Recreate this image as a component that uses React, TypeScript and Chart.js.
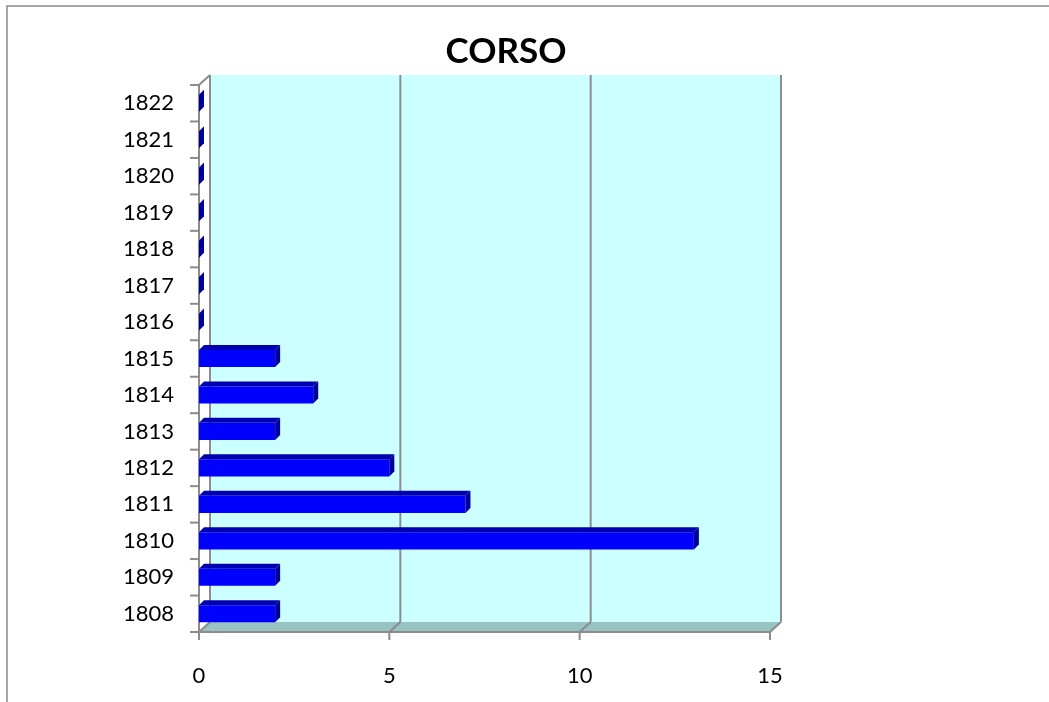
import React, { useEffect, useRef } from "react";
import { Chart, registerables } from "chart.js";

Chart.register(...registerables);

const categories = ["1808", "1809", "1810", "1811", "1812", "1813", "1814", "1815", "1816", "1817", "1818", "1819", "1820", "1821", "1822"];
const values = [2, 2, 13, 7, 5, 2, 3, 2, 0, 0, 0, 0, 0, 0, 0];
const xMin = 0;
const xMax = 15;
const xStep = 5;
const titleText = "CORSO";

const DX = 11;
const DY = 10;
const GRAY = "#8c8c8c";

const threeD = {
  id: "threeD",
  beforeDraw(chart: any) {
    const ctx = chart.ctx;
    ctx.save();
    ctx.strokeStyle = "#8a8a8a";
    ctx.lineWidth = 1.5;
    ctx.beginPath();
    ctx.moveTo(7, chart.height);
    ctx.lineTo(7, 6);
    ctx.lineTo(chart.width, 6);
    ctx.stroke();
    ctx.restore();
  },
  beforeDatasetsDraw(chart: any) {
    const ctx = chart.ctx;
    const { left, right, top, bottom } = chart.chartArea;
    const xs = chart.scales.x;
    const ys = chart.scales.y;
    ctx.save();
    ctx.fillStyle = "#ccffff";
    ctx.fillRect(left + DX, top - DY, right - left, bottom - top);
    ctx.fillStyle = "#99c2c2";
    ctx.beginPath();
    ctx.moveTo(left, bottom);
    ctx.lineTo(right, bottom);
    ctx.lineTo(right + DX, bottom - DY);
    ctx.lineTo(left + DX, bottom - DY);
    ctx.closePath();
    ctx.fill();
    ctx.strokeStyle = GRAY;
    ctx.lineWidth = 2;
    for (let v = xMin; v <= xMax; v += xStep) {
      const px = xs.getPixelForValue(v);
      ctx.beginPath();
      if (v !== xMin) {
        ctx.moveTo(px + DX, top - DY);
        ctx.lineTo(px + DX, bottom - DY);
      }
      ctx.moveTo(px, bottom);
      ctx.lineTo(px + DX, bottom - DY);
      ctx.stroke();
      ctx.beginPath();
      ctx.moveTo(px, bottom);
      ctx.lineTo(px, bottom + 8);
      ctx.stroke();
    }
    ctx.beginPath();
    ctx.moveTo(left + DX, top - DY);
    ctx.lineTo(left + DX, bottom - DY);
    ctx.stroke();
    ctx.beginPath();
    ctx.moveTo(left, bottom);
    ctx.lineTo(right, bottom);
    ctx.stroke();
    ctx.beginPath();
    ctx.moveTo(left, bottom);
    ctx.lineTo(left, top);
    ctx.lineTo(left + DX, top - DY);
    ctx.stroke();
    const n = categories.length;
    const h = (ys.bottom - ys.top) / n;
    for (let k = 0; k <= n; k++) {
      const py = ys.top + k * h;
      ctx.beginPath();
      ctx.moveTo(left - 9, py);
      ctx.lineTo(left, py);
      ctx.stroke();
    }
    ctx.restore();
  },
  afterDatasetsDraw(chart: any) {
    const ctx = chart.ctx;
    const meta = chart.getDatasetMeta(0);
    const d = 5;
    ctx.save();
    meta.data.forEach((bar: any) => {
      const p = bar.getProps(["x", "y", "base", "height"], true);
      const x0 = Math.min(p.base, p.x);
      const x1 = Math.max(p.base, p.x);
      const yT = p.y - p.height / 2;
      const yB = p.y + p.height / 2;
      if (x1 - x0 > 0.5) {
        ctx.fillStyle = "#0000b0";
        ctx.beginPath();
        ctx.moveTo(x0, yT);
        ctx.lineTo(x1, yT);
        ctx.lineTo(x1 + d, yT - d);
        ctx.lineTo(x0 + d, yT - d);
        ctx.closePath();
        ctx.fill();
      }
      ctx.fillStyle = "#00009a";
      ctx.beginPath();
      ctx.moveTo(x1, yT);
      ctx.lineTo(x1 + d, yT - d);
      ctx.lineTo(x1 + d, yB - d);
      ctx.lineTo(x1, yB);
      ctx.closePath();
      ctx.fill();
    });
    ctx.restore();
  },
};

export default function App() {
  const ref = useRef<HTMLCanvasElement | null>(null);
  useEffect(() => {
    document.body.style.margin = "0";
    const canvas = ref.current;
    if (!canvas) return;
    const chart = new Chart(canvas, {
      type: "bar",
      data: {
        labels: categories,
        datasets: [
          {
            label: titleText,
            data: values,
            backgroundColor: "#0000ff",
            borderWidth: 0,
            barPercentage: 0.47,
            categoryPercentage: 1,
          },
        ],
      },
      options: {
        indexAxis: "y",
        responsive: false,
        animation: false,
        layout: { padding: { left: 0, right: 37, top: 0, bottom: 0 } },
        plugins: {
          legend: { display: false },
          tooltip: { enabled: false },
          title: {
            display: true,
            text: titleText,
            color: "#000",
            font: { family: "Lato", size: 35, weight: "bold" },
            padding: { top: 31, bottom: 12 },
          },
        },
        scales: {
          x: {
            type: "linear",
            min: xMin,
            max: xMax,
            ticks: { stepSize: xStep, color: "#000", font: { family: "Lato", size: 22 }, padding: 31, maxRotation: 0 },
            grid: { display: false, drawTicks: false },
            border: { display: false },
            afterFit: (s: any) => {
              s.height = 70;
            },
          },
          y: {
            type: "category",
            reverse: true,
            ticks: { color: "#000", font: { family: "Lato", size: 22 }, padding: 25 },
            grid: { display: false, drawTicks: false },
            border: { display: false },
            afterFit: (s: any) => {
              s.width = 199;
            },
          },
          y2: {
            type: "category",
            position: "right",
            display: true,
            ticks: { display: false },
            grid: { display: false, drawTicks: false },
            border: { display: false },
            afterFit: (s: any) => {
              s.width = 242;
            },
          },
        },
      },
      plugins: [threeD],
    } as any);
    return () => chart.destroy();
  }, []);
  return (
    <div style={{ position: "fixed", left: 0, top: 0, width: 1049, height: 702 }}>
      <canvas ref={ref} width={1049} height={702} style={{ display: "block", width: 1049, height: 702 }} />
    </div>
  );
}
